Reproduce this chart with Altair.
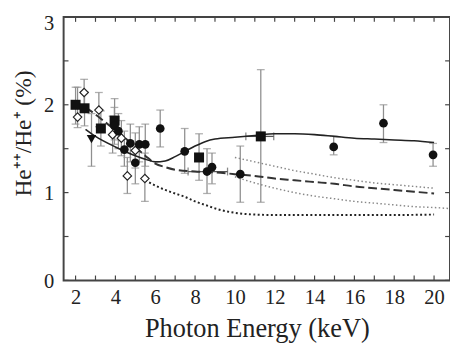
import altair as alt
import pandas as pd

# ---------------- data ----------------
sq_x  = [2.0, 2.45, 3.27, 3.96, 8.2, 11.3]
sq_y  = [2.00, 1.96, 1.73, 1.82, 1.40, 1.64]
sq_lo = [1.78, 1.76, 1.53, 1.60, 1.14, 0.89]
sq_hi = [2.20, 2.15, 1.93, 2.07, 1.67, 2.40]

tri_x  = [2.8]
tri_y  = [1.61]
tri_lo = [1.30]
tri_hi = [1.90]

ci_x  = [3.95, 4.15, 4.45, 4.75, 5.0, 5.2, 5.5, 6.25, 7.48, 8.6, 8.85, 10.27, 14.96, 17.46, 19.95]
ci_y  = [1.76, 1.70, 1.49, 1.56, 1.34, 1.55, 1.55, 1.73, 1.47, 1.24, 1.29, 1.21, 1.52, 1.79, 1.43]
ci_lo = [1.55, 1.50, 1.30, 1.35, 1.10, 1.35, 1.30, 1.52, 1.22, 0.99, 1.10, 0.89, 1.43, 1.57, 1.30]
ci_hi = [1.97, 1.90, 1.70, 1.78, 1.55, 1.75, 1.78, 1.94, 1.73, 1.50, 1.45, 1.53, 1.64, 2.00, 1.56]

di_x  = [2.1, 2.43, 3.17, 3.86, 4.3, 4.6, 5.0, 5.48]
di_y  = [1.86, 2.14, 1.94, 1.66, 1.62, 1.19, 1.48, 1.16]
di_lo = [1.74, 1.95, 1.75, 1.45, 1.42, 0.99, 1.28, 0.90]
di_hi = [2.20, 2.29, 2.14, 1.87, 1.82, 1.40, 1.68, 1.45]

# horizontal error bars
hx_lo = [10.55, 7.65]
hx_hi = [11.95, 9.63]
hx_y  = [1.64, 1.24]

solid_x = [2.5, 3, 4, 5, 5.5, 6, 6.5, 7, 7.5, 8, 8.5, 9, 10, 11, 12, 13, 14, 15, 16, 17, 18, 19, 20]
solid_y = [1.72, 1.64, 1.52, 1.42, 1.38, 1.35, 1.36, 1.41, 1.47, 1.53, 1.58, 1.61, 1.63, 1.65, 1.67, 1.67, 1.66, 1.64, 1.62, 1.61, 1.60, 1.59, 1.57]

dash_x = [2.5, 3, 3.5, 4, 4.5, 5, 5.5, 6, 6.5, 7, 8, 9, 10, 11, 12, 13, 14, 15, 16, 17, 18, 19, 20]
dash_y = [1.97, 1.89, 1.80, 1.71, 1.62, 1.52, 1.42, 1.33, 1.29, 1.26, 1.24, 1.23, 1.21, 1.19, 1.16, 1.14, 1.12, 1.10, 1.07, 1.05, 1.03, 1.01, 0.99]

dot_x = [5.5, 6, 6.5, 7, 7.5, 8, 8.5, 9, 9.5, 10, 11, 12, 14, 16, 18, 20]
dot_y = [1.14, 1.08, 1.03, 0.99, 0.95, 0.90, 0.86, 0.82, 0.79, 0.77, 0.75, 0.745, 0.745, 0.745, 0.745, 0.75]

gup_x = [10, 11, 12, 13, 14, 15, 16, 17, 18, 19, 20]
gup_y = [1.40, 1.35, 1.30, 1.25, 1.21, 1.17, 1.14, 1.11, 1.09, 1.07, 1.05]

glo_x = [10, 11, 12, 13, 14, 15, 16, 17, 18, 19, 20, 20.7]
glo_y = [1.18, 1.11, 1.05, 1.00, 0.96, 0.93, 0.90, 0.88, 0.86, 0.84, 0.83, 0.82]

x_ticks = list(range(2, 21))
y_ticks = [0, 0.5, 1, 1.5, 2, 2.5, 3]
x_labels = list(range(2, 21, 2))
y_labels = [0, 1, 2, 3]

# ---------------- chart ----------------
W, H = 396, 270
FONT = "Liberation Serif"
xs = alt.Scale(domain=[1.4, 20.8], nice=False, zero=False)
ys = alt.Scale(domain=[0, 3], nice=False, zero=False)

xaxis = alt.Axis(values=x_labels, grid=False, ticks=False, domain=False,
                 labelFont=FONT, labelFontSize=21, labelColor="#222",
                 labelPadding=7, title="Photon Energy (keV)", titleFont=FONT,
                 titleFontSize=27, titleFontWeight="normal", titleColor="#222",
                 titlePadding=8)
yaxis = alt.Axis(values=y_labels, grid=False, ticks=False, domain=False,
                 labelFont=FONT, labelFontSize=21, labelColor="#222",
                 labelPadding=10,
                 labelOffset={"condition": {"test": "datum.value >= 3", "value": 7}, "value": 1},
                 title="He⁺⁺/He⁺ (%)", titleFont=FONT,
                 titleFontSize=24, titleFontWeight="normal", titleColor="#222",
                 titleX=-34, titleY=119, titleAngle=-90, titleAlign="center",
                 titleBaseline="alphabetic")

def X(f):
    return alt.X(f, type="quantitative", scale=xs, axis=xaxis)

def Y(f):
    return alt.Y(f, type="quantitative", scale=ys, axis=yaxis)

def pts(xv, yv, lo, hi):
    return pd.DataFrame({"x": xv, "y": yv, "lo": lo, "hi": hi})

sq = pts(sq_x, sq_y, sq_lo, sq_hi)
tri = pts(tri_x, tri_y, tri_lo, tri_hi)
ci = pts(ci_x, ci_y, ci_lo, ci_hi)
di = pts(di_x, di_y, di_lo, di_hi)
allpts = pd.concat([sq, tri, ci, di], ignore_index=True)
hbar = pd.DataFrame({"x": hx_lo, "x2": hx_hi, "y": hx_y})

ERR = "#8f8f8f"

err_v = alt.Chart(allpts).mark_rule(color=ERR, strokeWidth=1.3).encode(
    x=X("x"), y=Y("lo"), y2="hi")
cap_lo = alt.Chart(allpts).mark_tick(color=ERR, orient="horizontal", size=8, thickness=1.3).encode(
    x=X("x"), y=Y("lo"))
cap_hi = alt.Chart(allpts).mark_tick(color=ERR, orient="horizontal", size=8, thickness=1.3).encode(
    x=X("x"), y=Y("hi"))
err_h = alt.Chart(hbar).mark_rule(color="#555", strokeWidth=1.3).encode(
    x=X("x"), x2="x2", y=Y("y"))
hcap1 = alt.Chart(hbar).mark_tick(color="#555", orient="vertical", size=8, thickness=1.3).encode(
    x=X("x"), y=Y("y"))
hcap2 = alt.Chart(hbar).mark_tick(color="#555", orient="vertical", size=8, thickness=1.3).encode(
    x=X("x2"), y=Y("y"))

def line(xv, yv, dash, color, width):
    df = pd.DataFrame({"x": xv, "y": yv})
    kw = dict(color=color, strokeWidth=width, interpolate="monotone")
    if dash:
        kw["strokeDash"] = dash
    return alt.Chart(df).mark_line(**kw).encode(x=X("x"), y=Y("y"))

l_solid = line(solid_x, solid_y, None, "#222", 1.6)
l_dash = line(dash_x, dash_y, [9, 4], "#333", 2.0)
l_dot = line(dot_x, dot_y, [2, 2.5], "#222", 2.0)
l_gup = line(gup_x, gup_y, [1.5, 2.5], "#888", 1.5)
l_glo = line(glo_x, glo_y, [1.5, 2.5], "#888", 1.5)

m_sq = alt.Chart(sq).mark_point(shape="square", filled=True, color="#111", size=105, opacity=1).encode(
    x=X("x"), y=Y("y"))
m_tri = alt.Chart(tri).mark_point(shape="triangle-down", filled=True, color="#111", size=95, opacity=1).encode(
    x=X("x"), y=Y("y"))
m_ci = alt.Chart(ci).mark_point(shape="circle", filled=True, color="#111", size=80, opacity=1).encode(
    x=X("x"), y=Y("y"))
m_di = alt.Chart(di).mark_point(shape="diamond", filled=True, fill="white", stroke="#222",
                                strokeWidth=1.2, size=75, opacity=1).encode(x=X("x"), y=Y("y"))

xt = pd.DataFrame({"t": x_ticks})
yt = pd.DataFrame({"t": y_ticks})
TK = "#444"
t_bot = alt.Chart(xt).mark_rule(color=TK, strokeWidth=1.2).encode(
    x=X("t"), y=alt.value(H), y2=alt.value(H - 5))
t_top = alt.Chart(xt).mark_rule(color=TK, strokeWidth=1.2).encode(
    x=X("t"), y=alt.value(0), y2=alt.value(5))
t_left = alt.Chart(yt).mark_rule(color=TK, strokeWidth=1.2).encode(
    y=Y("t"), x=alt.value(0), x2=alt.value(5))
t_right = alt.Chart(yt).mark_rule(color=TK, strokeWidth=1.2).encode(
    y=Y("t"), x=alt.value(W), x2=alt.value(W - 5))

chart = alt.layer(
    err_v, cap_lo, cap_hi, err_h, hcap1, hcap2,
    l_glo, l_gup, l_dot, l_dash, l_solid,
    m_di, m_tri, m_sq, m_ci,
    t_bot, t_top, t_left, t_right,
).properties(
    width=W, height=H,
    autosize=alt.AutoSizeParams(type="none"),
    padding={"left": 57, "top": 5, "right": 0, "bottom": 62},
    background="white",
).configure_view(stroke="#444", strokeWidth=2)

chart.save("out.html", embed_options={"renderer": "svg", "actions": False})
